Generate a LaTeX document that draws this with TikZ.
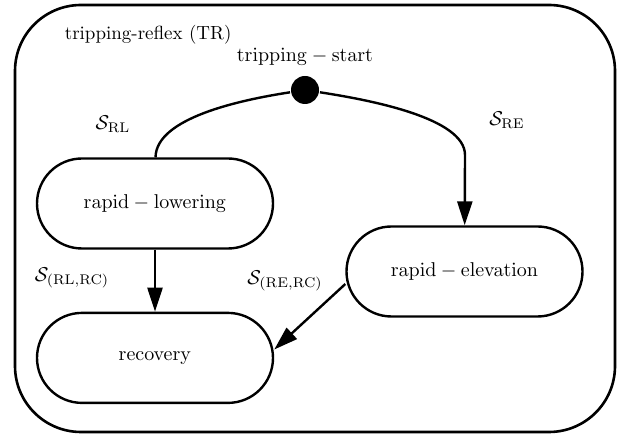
\documentclass[tikz,border=0pt]{standalone}
\usepackage{amssymb}
\usetikzlibrary{arrows.meta,positioning}

\begin{document}
\begin{tikzpicture}[x=0.5pt,y=-0.5pt,>={Triangle[length=12pt,width=7.5pt]},
                    line width=1.2pt,auto]
  \tikzstyle{mode}=[draw=black,rounded corners=22.5pt,minimum width=118pt,
                    minimum height=45pt,inner sep=0pt]
  \tikzstyle{cluster}=[draw=black,rounded corners=33pt,line width=1.3pt,
                       minimum width=300pt,minimum height=213.5pt]
  \useasboundingbox (0,0) rectangle (621,437);

  \node[cluster] (TR) at (315,218.5) {};
  \node[anchor=west,font=\fontsize{9.5}{11}\selectfont] (TRname) at (57,35)
       {tripping-reflex (TR)};

  \node[circle,fill=black,inner sep=0pt,minimum size=14pt] (start) at (305,90) {};
  \node (startname) at (305,57) {$\mathrm{tripping}-\mathrm{start}$};

  \node[mode]                       (lowering)  at (155,203.5) {$\mathrm{rapid}-\mathrm{lowering}$};
  \node[mode, below=31pt of lowering] (recovery)             {$\mathrm{recovery}$};
  \node[mode]                       (elevation) at (464.5,271.5) {$\mathrm{rapid}-\mathrm{elevation}$};
  \coordinate (bendRE) at (465,155);

  \draw (start) .. controls (240,100) and (156,118) .. (lowering);
  \draw[->] (start) .. controls (370,100) and (465,118) .. (bendRE) -- (elevation);
  \path[->] (lowering)      edge (recovery)
            (elevation.186) edge (recovery.4);

  \node (SRL)   at (113,124) {$\mathcal{S}_{\mathrm{RL}}$};
  \node (SRE)   at (507,120) {$\mathcal{S}_{\mathrm{RE}}$};
  \node (SRLRC) at (72,278)  {$\mathcal{S}_{(\mathrm{RL},\mathrm{RC})}$};
  \node (SRERC) at (285,281) {$\mathcal{S}_{(\mathrm{RE},\mathrm{RC})}$};
\end{tikzpicture}
\end{document}
